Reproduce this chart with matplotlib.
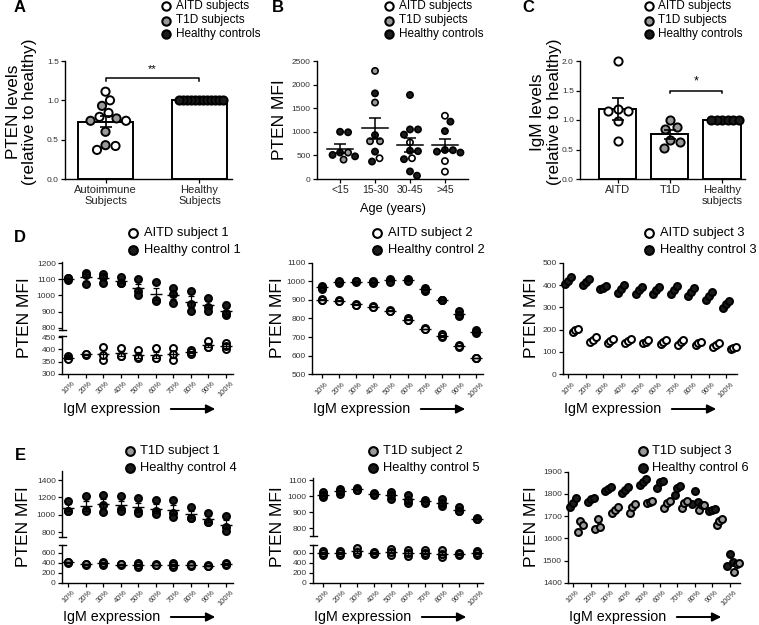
import numpy as np
import matplotlib
matplotlib.use("Agg")
import matplotlib.pyplot as plt
from matplotlib.lines import Line2D
from matplotlib.patches import FancyArrowPatch

plt.rcParams['font.family'] = ['Liberation Sans', 'DejaVu Sans']

# ---------------- data ----------------
A_groups = ['Autoimmune\nSubjects', 'Healthy\nSubjects']
A_aitd = [1.11, 1.00, 0.84, 0.79, 0.74, 0.42, 0.37]
A_t1d = [0.93, 0.77, 0.74, 0.60, 0.43]
A_healthy = [1.0, 1.0, 1.0, 1.0, 1.0, 1.0, 1.0, 1.0, 1.0, 1.0, 1.0, 1.0]

B_groups = ['<15', '15-30', '30-45', '>45']
B_aitd = [[], [440], [775, 440], [1340, 380, 155]]
B_t1d = [[410, 560], [2290, 1620, 800, 800], [], []]
B_healthy = [[1000, 990, 510, 480, 560],
             [1815, 930, 580, 370],
             [1780, 1050, 1050, 940, 590, 600, 420, 70, 160],
             [1215, 1015, 615, 610, 580, 560]]

C_groups = ['AITD', 'T1D', 'Healthy\nsubjects']
C_aitd = [2.00, 1.19, 1.16, 1.15, 0.98, 0.64]
C_t1d = [1.00, 0.88, 0.85, 0.66, 0.62, 0.52]
C_healthy = [1.0, 1.0, 1.0, 1.0, 1.0, 1.0]

pct = ['10%', '20%', '30%', '40%', '50%', '60%', '70%', '80%', '90%', '100%']

D1_healthy = [[1095, 1105, 1110], [1140, 1070, 1125], [1130, 1115, 1080], [1115, 1075, 1080],
              [1100, 1030, 1000], [1085, 965, 975], [1045, 1010, 955], [1025, 950, 905],
              [985, 930, 905], [940, 880, 890]]
D1_aitd = [[372, 365, 360], [380, 378, 382], [410, 357, 378], [406, 372, 375], [398, 365, 368],
           [404, 364, 365], [405, 355, 380], [398, 380, 388], [435, 410, 410], [427, 400, 415]]

D2_healthy = [[975, 960, 970], [1000, 990, 995], [1000, 995, 1000], [1000, 990, 995],
              [1015, 1005, 995], [1015, 1005, 1000], [965, 950, 955], [900, 900, 900],
              [840, 815, 820], [740, 720, 725]]
D2_aitd = [[905, 900, 900], [900, 895, 893], [878, 875, 875], [867, 862, 860], [848, 840, 838],
           [800, 793, 790], [747, 744, 742], [715, 700, 705], [660, 648, 652], [590, 585, 585]]

D3_healthy = [[405, 420, 438], [400, 415, 425], [380, 388, 395], [365, 380, 400], [362, 378, 392],
              [360, 378, 392], [360, 378, 396], [352, 370, 385], [335, 352, 370], [297, 315, 330]]
D3_aitd = [[188, 198, 205], [145, 155, 168], [140, 150, 158], [140, 150, 158], [140, 146, 152],
           [137, 146, 154], [132, 143, 152], [131, 138, 146], [124, 132, 140], [112, 118, 124]]

E1_healthy = [[1160, 1040, 1050], [1220, 1060, 1040], [1225, 1110, 1030], [1215, 1070, 1040],
              [1190, 1050, 1020], [1170, 1040, 1010], [1170, 1020, 975], [1090, 965, 965],
              [1025, 920, 915], [990, 860, 810]]
E1_t1d = [[410, 400, 405], [380, 350, 370], [420, 360, 395], [370, 350, 365], [400, 320, 360],
          [365, 350, 360], [400, 320, 360], [365, 340, 350], [350, 330, 340], [400, 350, 370]]

E2_healthy = [[1025, 995, 1005], [1045, 1015, 1030], [1050, 1040, 1035], [1020, 1010, 1015],
              [1025, 985, 1005], [1010, 955, 975], [975, 960, 965], [980, 940, 955],
              [930, 905, 910], [865, 855, 860]]
E2_t1d = [[640, 560, 600], [640, 550, 590], [700, 580, 620], [620, 570, 590], [680, 560, 620],
          [650, 530, 590], [650, 550, 590], [650, 520, 580], [600, 550, 575], [640, 550, 590]]

E3_healthy = [[1742, 1760, 1783], [1765, 1776, 1783], [1812, 1822, 1830], [1805, 1818, 1830],
              [1840, 1855, 1865], [1828, 1855, 1860], [1797, 1825, 1835], [1755, 1812, 1765],
              [1722, 1728, 1733], [1475, 1530, 1495]]
E3_t1d = [[1630, 1678, 1658], [1643, 1688, 1652], [1713, 1727, 1740], [1715, 1740, 1755],
          [1758, 1762, 1768], [1737, 1760, 1770], [1737, 1760, 1767], [1727, 1748, 1752],
          [1662, 1678, 1685], [1446, 1485, 1490]]

# ---------------- styling ----------------
BLACK = '#1c1c1c'
GRAY = '#9a9a9a'
WHITE = '#ffffff'
TICKC = '#333333'

W, H = 759, 625
fig = plt.figure(figsize=(W / 100, H / 100), dpi=100)
fig.patch.set_facecolor('white')


def fx(x):
    return x / W


def fy(y):
    return 1 - y / H


def add_ax(x0, y0, x1, y1):
    return fig.add_axes([x0 / W, 1 - y1 / H, (x1 - x0) / W, (y1 - y0) / H])


def style(ax, ylab_size=6):
    for s in ['top', 'right']:
        ax.spines[s].set_visible(False)
    for s in ['left', 'bottom']:
        ax.spines[s].set_linewidth(1.0)
    ax.tick_params(direction='out', length=3, width=0.9, labelsize=ylab_size,
                   pad=1.5, labelcolor=TICKC)
    ax.patch.set_alpha(0)


def mean_sem(v):
    v = np.asarray(v, float)
    if len(v) < 2:
        return v.mean(), 0.0
    return v.mean(), v.std(ddof=1) / np.sqrt(len(v))


def swarm_x(ax, xc, vals, dmin):
    T = ax.transData
    cx = T.transform((xc, 0))[0]
    placed, out = [], []
    for v in vals:
        py = T.transform((xc, v))[1]
        k = 0
        found = None
        while found is None:
            cands = [0.0] if k == 0 else [k * 0.5, -k * 0.5]
            for dx in cands:
                if all((cx + dx - qx) ** 2 + (py - qy) ** 2 >= dmin ** 2 for qx, qy in placed):
                    found = dx
                    break
            k += 1
        placed.append((cx + found, py))
        out.append(T.inverted().transform((cx + found, py))[0])
    return np.array(out)


def legend(xm, ys, labels, fcs, fs, ms, mew, dx):
    for y, lab, fc in zip(ys, labels, fcs):
        fig.add_artist(Line2D([fx(xm)], [fy(y)], marker='o', ms=ms, mfc=fc, mec='black',
                              mew=mew, ls='none', transform=fig.transFigure))
        fig.text(fx(xm + dx), fy(y), lab, fontsize=fs, ha='left', va='center')


def letter(x, y, s):
    fig.text(fx(x), fy(y), s, fontsize=12, fontweight='bold', ha='center', va='center')


def ylabel(x, y, s, fs=12.5):
    fig.text(fx(x), fy(y), s, fontsize=fs, rotation=90, ha='center', va='center',
             multialignment='center', linespacing=1.15)


def igm(xleft, y):
    fig.text(fx(xleft + 1), fy(y), 'IgM expression', fontsize=10.3, ha='left', va='center')
    fig.add_artist(FancyArrowPatch(posA=(fx(xleft + 106), fy(y)), posB=(fx(xleft + 156), fy(y)),
                                   transform=fig.transFigure, arrowstyle='-|>',
                                   mutation_scale=13, lw=1.4, color='black'))


# ---------------- Panel A ----------------
axA = add_ax(65, 61, 232, 179)
style(axA)
axA.set_xlim(-0.431, 1.346)
axA.set_ylim(0, 1.5)
auto_vals = A_aitd + A_t1d
auto_fc = [WHITE] * len(A_aitd) + [GRAY] * len(A_t1d)
mA0, sA0 = mean_sem(auto_vals)
mA1, sA1 = mean_sem(A_healthy)
axA.bar([0, 1], [mA0, mA1], width=0.58, color='white', edgecolor='black', lw=1.4, zorder=1)
order = np.argsort(auto_vals)[::-1]
vs = [auto_vals[i] for i in order]
fcs = [auto_fc[i] for i in order]
xs = swarm_x(axA, 0, vs, 9.6)
axA.scatter(xs, vs, s=5.9 ** 2, c=fcs, edgecolors='black', linewidths=1.4, zorder=3, clip_on=False)
xs = swarm_x(axA, 1, A_healthy, 3.9)
axA.scatter(xs, A_healthy, s=5.9 ** 2, c=BLACK, edgecolors='black', linewidths=1.4, zorder=3, clip_on=False)
axA.errorbar([0], [mA0], yerr=[sA0], fmt='none', ecolor='black', elinewidth=1.2, capsize=4.5,
             capthick=1.2, zorder=4)
axA.plot([0, 0, 1, 1], [1.245, 1.28, 1.28, 1.245], color='black', lw=1.1)
axA.text(0.5, 1.33, '**', ha='center', va='bottom', fontsize=8)
axA.set_xticks([0, 1])
axA.set_xticklabels(A_groups, fontsize=8, linespacing=1.05)
axA.tick_params(axis='x', labelcolor='#222222')
axA.set_yticks([0, 0.5, 1.0, 1.5])
axA.set_yticklabels(['0.0', '0.5', '1.0', '1.5'])
ylabel(21.5, 112, 'PTEN levels\n(relative to healthy)', fs=12.3)
legend(166, [6, 20.5, 34], ['AITD subjects', 'T1D subjects', 'Healthy controls'],
       [WHITE, GRAY, BLACK], 8.5, 6.0, 1.5, 9.5)
letter(20, 8, 'A')

# ---------------- Panel B ----------------
axB = add_ax(317, 61, 468, 179)
style(axB)
axB.set_xlim(-0.66, 3.66)
axB.set_ylim(0, 2500)
axB.set_yticks([0, 500, 1000, 1500, 2000, 2500])
for i in range(4):
    vals = B_aitd[i] + B_t1d[i] + B_healthy[i]
    fc = [WHITE] * len(B_aitd[i]) + [GRAY] * len(B_t1d[i]) + [BLACK] * len(B_healthy[i])
    order = np.argsort(vals)[::-1]
    vs = [vals[j] for j in order]
    fcs = [fc[j] for j in order]
    xs = swarm_x(axB, i, vs, 7.8)
    axB.scatter(xs, vs, s=4.5 ** 2, c=fcs, edgecolors='black', linewidths=1.2, zorder=3, clip_on=False)
    m, s = mean_sem(vals)
    axB.plot([i - 0.36, i + 0.36], [m, m], color='black', lw=1.1, zorder=5)
    axB.errorbar([i], [m], yerr=[s], fmt='none', ecolor='black', elinewidth=1.1, capsize=4.3,
                 capthick=1.1, zorder=5)
axB.set_xticks(range(4))
axB.set_xticklabels(B_groups, fontsize=7.5)
axB.tick_params(axis='x', labelcolor='#222222')
axB.set_xlabel('Age (years)', fontsize=9.2, labelpad=5.5)
ylabel(280, 120, 'PTEN MFI')
legend(389, [6, 20.5, 34], ['AITD subjects', 'T1D subjects', 'Healthy controls'],
       [WHITE, GRAY, BLACK], 8.5, 6.0, 1.5, 9.5)
letter(278, 8, 'B')

# ---------------- Panel C ----------------
axC = add_ax(580, 61, 745, 179)
style(axC)
axC.set_xlim(-0.718, 2.44)
axC.set_ylim(0, 2.0)
groupsC = [(C_aitd, WHITE, 9.8), (C_t1d, GRAY, 9.8), (C_healthy, BLACK, 5.4)]
means = [mean_sem(g[0])[0] for g in groupsC]
axC.bar([0, 1, 2], means, width=0.71, color='white', edgecolor='black', lw=1.4, zorder=1)
for i, (vals, fc, d) in enumerate(groupsC):
    vs = sorted(vals, reverse=True)
    xs = swarm_x(axC, i, vs, d)
    axC.scatter(xs, vs, s=5.9 ** 2, c=fc, edgecolors='black', linewidths=1.4, zorder=3, clip_on=False)
    m, s = mean_sem(vals)
    if s > 0:
        axC.errorbar([i], [m], yerr=[s], fmt='none', ecolor='black', elinewidth=1.2, capsize=4.3,
                     capthick=1.2, zorder=4)
axC.plot([1, 1, 2, 2], [1.45, 1.497, 1.497, 1.45], color='black', lw=1.1)
axC.text(1.5, 1.55, '*', ha='center', va='bottom', fontsize=9)
axC.set_xticks([0, 1, 2])
axC.set_xticklabels(C_groups, fontsize=8, linespacing=1.05)
axC.tick_params(axis='x', labelcolor='#222222')
axC.set_yticks([0, 0.5, 1.0, 1.5, 2.0])
axC.set_yticklabels(['0.0', '0.5', '1.0', '1.5', '2.0'])
ylabel(546, 112, 'IgM levels\n(relative to healthy)', fs=12.3)
legend(649, [6, 20.5, 34], ['AITD subjects', 'T1D subjects', 'Healthy controls'],
       [WHITE, GRAY, BLACK], 8.5, 6.0, 1.5, 9.5)
letter(528, 8, 'C')


# ---------------- D / E panels ----------------
def dots(ax, data, fc, offsets, with_mean=True):
    for i, vals in enumerate(data):
        xs = i + np.asarray(offsets)
        ax.plot(xs, vals, 'o', ms=5.0, mfc=fc, mec='black', mew=1.45, ls='none', zorder=3,
                clip_on=False)
        if with_mean:
            m, s = mean_sem(vals)
            ax.errorbar([i], [m], yerr=[s], fmt='none', ecolor='black', elinewidth=0.9,
                        capsize=2.2, capthick=0.9, zorder=4)
            ax.plot([i], [m], marker='_', ms=8.5, mew=1.0, color='black', zorder=4)


def pct_axis(ax):
    ax.set_xticks(range(10))
    ax.set_xticklabels(pct, rotation=45, ha='center', va='top', fontsize=5.5)


def cap(ax, ypos, wpx=3.5):
    bb = ax.get_position()
    dx = wpx / (bb.width * W)
    ax.plot([-dx, dx], [ypos, ypos], transform=ax.transAxes, color='black', lw=1.0,
            clip_on=False)


def broken_pair(x0, x1, top_box, bot_box, xlim, top_lim, bot_lim, top_ticks, bot_ticks,
                top_data, top_fc, bot_data, bot_fc):
    at = add_ax(x0, top_box[0], x1, top_box[1])
    ab = add_ax(x0, bot_box[0], x1, bot_box[1])
    for a in (at, ab):
        style(a)
        a.set_xlim(*xlim)
    at.set_ylim(*top_lim)
    ab.set_ylim(*bot_lim)
    at.set_yticks(top_ticks)
    ab.set_yticks(bot_ticks)
    at.spines['bottom'].set_visible(False)
    at.tick_params(axis='x', bottom=False, labelbottom=False)
    dots(at, top_data, top_fc, [0, 0, 0])
    dots(ab, bot_data, bot_fc, [0, 0, 0])
    pct_axis(ab)
    cap(at, 0)
    cap(ab, 1)
    return at, ab


# D1
broken_pair(62, 233, (262.2, 329.6), (335.8, 374), (-0.36, 9.4), (790, 1205), (300, 455),
            [800, 900, 1000, 1100, 1200], [300, 350, 400, 450],
            D1_healthy, BLACK, D1_aitd, WHITE)
ylabel(25, 318, 'PTEN MFI')
legend(133, [233, 250], ['AITD subject 1', 'Healthy control 1'], [WHITE, BLACK], 9.3, 6.3, 1.5, 11)
letter(20, 237, 'D')
igm(62, 409)

# D2
axD2 = add_ax(312, 262.7, 483, 374.3)
style(axD2)
axD2.set_xlim(-0.56, 9.38)
axD2.set_ylim(500, 1100)
axD2.set_yticks(range(500, 1101, 100))
dots(axD2, D2_healthy, BLACK, [0, 0, 0])
dots(axD2, D2_aitd, WHITE, [0, 0, 0])
pct_axis(axD2)
ylabel(278, 318, 'PTEN MFI')
legend(377, [233, 250], ['AITD subject 2', 'Healthy control 2'], [WHITE, BLACK], 9.3, 6.3, 1.5, 10.5)
igm(312, 409)

# D3
axD3 = add_ax(563, 262.7, 737, 374.3)
style(axD3)
axD3.set_xlim(-0.3, 9.6)
axD3.set_ylim(0, 500)
axD3.set_yticks(range(0, 501, 100))
dots(axD3, D3_healthy, BLACK, [-0.17, 0.0, 0.17], with_mean=False)
dots(axD3, D3_aitd, WHITE, [0.25, 0.4, 0.55], with_mean=False)
pct_axis(axD3)
ylabel(531, 318, 'PTEN MFI')
legend(649, [233, 250], ['AITD subject 3', 'Healthy control 3'], [WHITE, BLACK], 9.3, 6.3, 1.5, 10.5)
igm(563, 409)

# E1
broken_pair(62, 233, (471.3, 536.7), (545.2, 582.7), (-0.36, 9.4), (750, 1500), (0, 750),
            [800, 1000, 1200, 1400], [0, 200, 400, 600],
            E1_healthy, BLACK, E1_t1d, GRAY)
ylabel(24, 527, 'PTEN MFI')
legend(130, [451, 468], ['T1D subject 1', 'Healthy control 4'], [GRAY, BLACK], 9.3, 6.3, 1.5, 10.5)
letter(20, 455, 'E')
igm(62, 617)

# E2
broken_pair(313, 483, (477.6, 536.4), (545.2, 582.7), (-0.56, 9.38), (750, 1115), (0, 750),
            [800, 900, 1000, 1100], [0, 200, 400, 600],
            E2_healthy, BLACK, E2_t1d, GRAY)
ylabel(278, 527, 'PTEN MFI')
legend(373, [451, 468], ['T1D subject 2', 'Healthy control 5'], [GRAY, BLACK], 9.3, 6.3, 1.5, 10)
igm(313, 617)

# E3
axE3 = add_ax(568, 471.7, 740, 582.7)
style(axE3)
axE3.set_xlim(-0.3, 9.6)
axE3.set_ylim(1400, 1900)
axE3.set_yticks(range(1400, 1901, 100))
dots(axE3, E3_healthy, BLACK, [-0.17, 0.0, 0.17], with_mean=False)
dots(axE3, E3_t1d, GRAY, [0.25, 0.4, 0.55], with_mean=False)
pct_axis(axE3)
ylabel(532, 527, 'PTEN MFI')
legend(643, [451, 468], ['T1D subject 3', 'Healthy control 6'], [GRAY, BLACK], 9.3, 6.3, 1.5, 9.5)
igm(568, 617)

fig.savefig('out.png', dpi=100, facecolor='white')
